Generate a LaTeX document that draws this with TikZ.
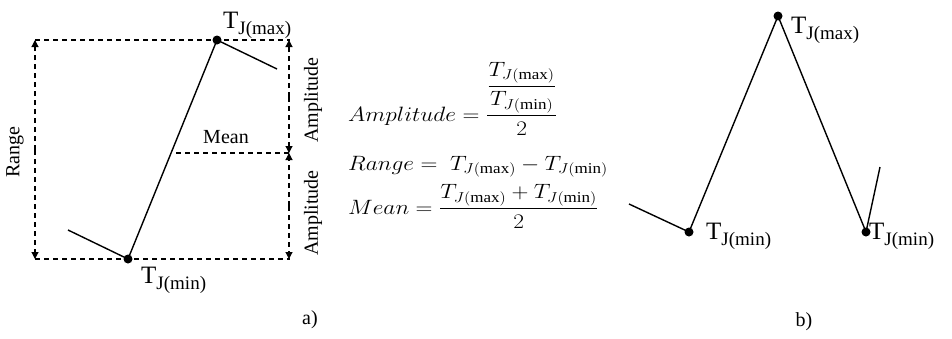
\documentclass[tikz,border=0pt]{standalone}
\usepackage{amsmath}
\usepackage{graphicx}
\usepackage{fontspec}
\setmainfont{Liberation Serif}
\usetikzlibrary{arrows.meta}
\newcommand\TJ[1]{T\raisebox{-6pt}{\fontsize{19}{19}\selectfont J(#1)}}
\newcommand\wide[1]{\scalebox{1.13}[1]{#1}}
\tikzset{
  dot/.style={circle,fill=black,inner sep=0pt,minimum size=9pt},
  curve/.style={line width=1.4pt},
  guide/.style={line width=1.1pt,dash pattern=on 5pt off 4pt},
  tip/.style={-{Triangle[length=7pt,width=7pt]}},
  lbl/.style={font=\fontsize{25}{25}\selectfont,inner sep=0pt,anchor=base west},
  txt/.style={font=\fontsize{20}{20}\selectfont,inner sep=0pt},
  eq/.style={font=\fontsize{21.5}{26}\selectfont,inner sep=0pt,anchor=base west}
}
\begin{document}
\begin{tikzpicture}[x=1pt,y=-1pt]
\useasboundingbox (0,0) rectangle (952,338);
% ---- panel a
\node[dot] (amax) at (217,40) {};
\node[dot] (amin) at (128,259) {};
\coordinate (atl) at (35,40);
\coordinate (atr) at (290,40);
\coordinate (abl) at (35,259);
\coordinate (abr) at (290,259);
\coordinate (amid) at (289,153);
\coordinate (amean) at (176,153);
\coordinate (aout) at (277,69);
\coordinate (ain) at (68,230);
\draw[guide] (atl) -- (atr);
\draw[guide] (abl) -- (abr);
\draw[guide] (amean) -- (amid);
\draw[guide,tip] (35,150) -- (atl);
\draw[guide,tip] (35,150) -- (abl);
\draw[guide,tip] (289,97) -- (289,40);
\draw[guide,tip] (289,97) -- (amid);
\draw[guide,tip] (289,206) -- (amid);
\draw[guide,tip] (289,206) -- (289,259);
\draw[curve] (ain) -- (amin.center) -- (amax.center) -- (aout);
\node[lbl] (lamax) at (223,28) {\TJ{max}};
\node[lbl] (lamin) at (141,283) {\TJ{min}};
\node[txt,rotate=90] (range) at (15,152) {Range};
\node[txt] (mean) at (226,137) {Mean};
\node[txt,rotate=90] (amp1) at (313,100) {Amplitude};
\node[txt,rotate=90] (amp2) at (313,213) {Amplitude};
\node[txt] (la) at (310,320) {a)};
% ---- formulas
\node[eq] (f1) at (348,121) {\wide{$\displaystyle Amplitude = \frac{\dfrac{T_{J(\mathrm{max})}}{T_{J(\mathrm{min})}}}{2}$}};
\node[eq] (f2) at (348,170) {\wide{$\displaystyle Range =\ T_{J(\mathrm{max})} - T_{J(\mathrm{min})}$}};
\node[eq] (f3) at (348,214) {\wide{$\displaystyle Mean = \frac{T_{J(\mathrm{max})} + T_{J(\mathrm{min})}}{2}$}};
% ---- panel b
\node[dot] (bmax) at (778,16) {};
\node[dot] (bmin1) at (689,232) {};
\node[dot] (bmin2) at (866,232) {};
\coordinate (bin) at (629,204);
\coordinate (bout) at (880,167);
\draw[curve] (bin) -- (bmin1.center) -- (bmax.center) -- (bmin2.center) -- (bout);
\node[lbl] (lbmax) at (791,33) {\TJ{max}};
\node[lbl] (lbmin1) at (706,239) {\TJ{min}};
\node[lbl] (lbmin2) at (869,239) {\TJ{min}};
\node[txt] (lb) at (804,322) {b)};
\end{tikzpicture}
\end{document}
